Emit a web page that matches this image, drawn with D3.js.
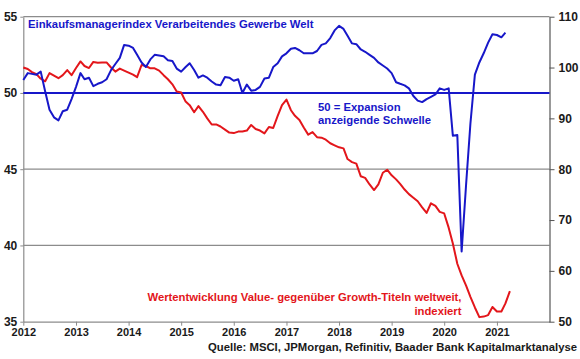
<!DOCTYPE html>
<html><head><meta charset="utf-8">
<script src="https://cdn.jsdelivr.net/npm/d3@7"></script>
<style>body{margin:0;background:#fff}svg{display:block;font-family:"Liberation Sans",Arial,sans-serif;font-weight:bold}</style>
</head><body><svg id="c" width="580" height="359"></svg>
<script>
// Einkaufsmanagerindex (PMI) monthly, starting 2012-01
const pmi = [50.85,51.3,51.25,51.2,51.4,50.1,48.9,48.4,48.2,48.8,48.9,49.6,
50.4,51.3,50.9,51.0,50.45,50.6,50.7,50.9,51.5,51.9,52.3,53.15,
53.1,52.95,52.5,52.0,51.7,52.2,52.5,52.45,52.4,52.15,52.1,51.6,
51.4,51.7,51.95,51.5,51.0,51.15,51.0,50.75,50.55,50.5,51.05,51.0,
50.8,50.9,50.0,50.55,50.15,50.2,50.4,50.95,51.0,51.7,51.95,52.4,
52.6,52.9,52.95,52.8,52.6,52.6,52.6,52.75,53.15,53.25,53.6,54.1,
54.4,54.2,53.75,53.25,53.2,52.85,52.7,52.5,52.3,52.0,51.8,51.6,
51.3,50.7,50.6,50.5,50.3,49.8,49.5,49.4,49.6,49.75,49.9,50.3,
50.2,50.3,47.2,47.25,39.6,44.0,48.0,51.2,52.0,52.6,53.3,53.85,
53.8,53.65,53.95];
// Value vs. Growth, indexed, monthly, starting 2012-01
const valueGrowth = [100.0,99.7,99.1,98.7,97.8,97.3,98.9,98.4,97.9,98.5,99.5,98.5,
99.9,101.2,100.3,99.9,101.1,100.95,101.0,101.0,100.0,99.2,99.8,99.4,
99.0,98.6,98.1,100.5,100.3,99.85,99.85,99.4,98.5,97.7,96.7,95.3,
95.1,93.3,92.6,91.2,92.4,91.3,90.0,88.8,88.8,88.4,87.8,87.2,
87.1,87.4,87.4,87.6,88.7,87.9,87.6,87.05,88.3,88.1,90.5,92.6,
93.7,91.6,90.5,89.7,88.2,86.8,87.3,86.3,86.2,85.8,85.1,84.7,
84.3,84.1,82.0,81.4,81.1,78.6,78.3,77.0,75.9,77.0,79.3,79.9,
78.8,78.0,77.1,76.0,75.1,74.4,73.7,72.5,71.4,73.3,72.8,71.6,
71.3,68.5,65.4,61.4,59.1,57.1,54.9,52.8,50.9,51.0,51.3,52.9,
52.0,52.0,53.6,56.0];
const yearTicks = [2012,2013,2014,2015,2016,2017,2018,2019,2020,2021];
const leftTicks = [35,40,45,50,55];
const rightTicks = [50,60,70,80,90,100,110];
const threshold = 50;
const titleText = "Einkaufsmanagerindex Verarbeitendes Gewerbe Welt";
const thresholdText = ["50 = Expansion","anzeigende Schwelle"];
const redText = ["Wertentwicklung Value- gegenüber Growth-Titeln weltweit,","indexiert"];
const sourceText = "Quelle: MSCI, JPMorgan, Refinitiv, Baader Bank Kapitalmarktanalyse";

const months = d3.timeMonth.range(new Date(2012,0,1), new Date(2012, valueGrowth.length, 1));
const BLUE = "#1717c9", RED = "#e3161b", GRID = "#8c8c8c";
const svg = d3.select("#c");
const L = 23.3, R = 549.5, T = 16.7, B = 321.7;
const x = d3.scaleTime().domain([new Date(2012,0,1), new Date(2022,0,1)]).range([L,R]);
const yL = d3.scaleLinear().domain([35,55]).range([B,T]);
const yR = d3.scaleLinear().domain([50,110]).range([B,T]);

// gridlines
svg.append("g").selectAll("line").data([40,45,55]).join("line")
  .attr("x1",L).attr("x2",R).attr("y1",d=>yL(d)).attr("y2",d=>yL(d))
  .attr("stroke",GRID).attr("stroke-width",1.2);

// axes
const ax = svg.append("g").attr("transform",`translate(0,${B})`)
  .call(d3.axisBottom(x).tickValues(yearTicks.map(y=>new Date(y,0,1))).tickFormat(d3.timeFormat("%Y")).tickSize(4).tickSizeOuter(0).tickPadding(3));
ax.select(".domain").attr("stroke",GRID).attr("stroke-width",1.2);
ax.selectAll(".tick line").attr("stroke",GRID);
ax.selectAll("text").attr("font-size","11px").attr("font-family","Liberation Sans, Arial").attr("font-weight","bold").attr("fill","#1a1a1a");

const al = svg.append("g").attr("transform",`translate(${L},0)`)
  .call(d3.axisLeft(yL).tickValues(leftTicks).tickSize(3).tickSizeOuter(0).tickPadding(3));
al.select(".domain").attr("stroke",GRID).attr("stroke-width",1.2);
al.selectAll(".tick line").attr("stroke",GRID);
al.selectAll("text").attr("font-size","12px").attr("font-family","Liberation Sans, Arial").attr("font-weight","bold").attr("fill","#1a1a1a");

const ar = svg.append("g").attr("transform",`translate(${R},0)`)
  .call(d3.axisRight(yR).tickValues(rightTicks).tickSize(5).tickSizeOuter(0).tickPadding(4));
ar.select(".domain").attr("stroke","#555").attr("stroke-width",1.2);
ar.selectAll(".tick line").attr("stroke","#555");
ar.selectAll("text").attr("font-size","12px").attr("font-family","Liberation Sans, Arial").attr("font-weight","bold").attr("fill","#1a1a1a");

// threshold line
svg.append("line").attr("x1",L).attr("x2",R).attr("y1",yL(threshold)).attr("y2",yL(threshold))
  .attr("stroke",BLUE).attr("stroke-width",2);

// series
svg.append("path").datum(valueGrowth)
  .attr("d", d3.line().x((d,i)=>x(months[i])).y(d=>yR(d)))
  .attr("fill","none").attr("stroke",RED).attr("stroke-width",2).attr("stroke-linejoin","round");
svg.append("path").datum(pmi)
  .attr("d", d3.line().x((d,i)=>x(months[i])).y(d=>yL(d)))
  .attr("fill","none").attr("stroke",BLUE).attr("stroke-width",2).attr("stroke-linejoin","round");

// texts
svg.append("text").attr("x",28).attr("y",27.5).attr("fill",BLUE).attr("font-size","11.3px").text(titleText);
svg.append("g").selectAll("text").data(thresholdText).join("text")
  .attr("x",318).attr("y",(d,i)=>111+i*13).attr("fill",BLUE).attr("font-size","11.3px").text(d=>d);
svg.append("g").selectAll("text").data(redText).join("text")
  .attr("x",461.5).attr("y",(d,i)=>301+i*13.5).attr("text-anchor","end").attr("fill",RED).attr("font-size","11.3px").text(d=>d);
svg.append("text").attr("x",577).attr("y",350.5).attr("text-anchor","end").attr("fill","#1a1a1a").attr("font-size","11.3px").text(sourceText);
</script></body></html>
